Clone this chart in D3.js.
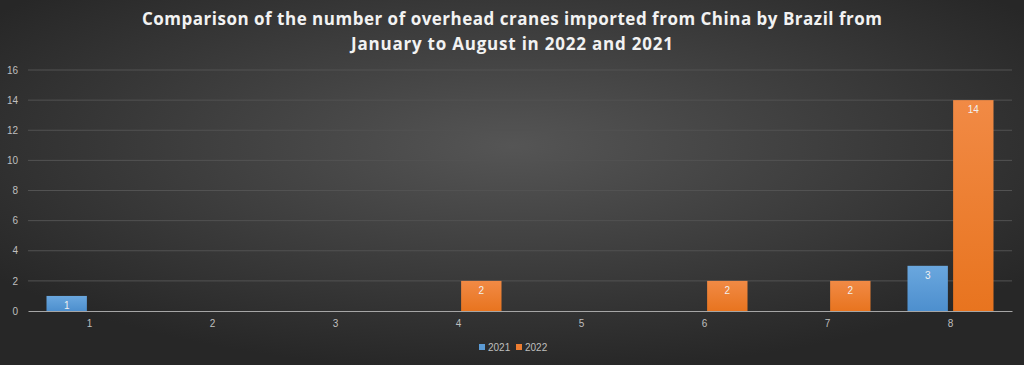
<!DOCTYPE html>
<html>
<head>
<meta charset="utf-8">
<script src="https://cdn.jsdelivr.net/npm/d3@7"></script>
<style>
  body { margin: 0; background: #333; }
  svg { display: block; }
</style>
</head>
<body>
<div id="chart"></div>
<script>
// chart data
var months = ["1", "2", "3", "4", "5", "6", "7", "8"];
var seriesNames = ["2021", "2022"];
var values2021 = [1, 0, 0, 0, 0, 0, 0, 3];
var values2022 = [0, 0, 0, 2, 0, 2, 2, 14];
var yTicks = [0, 2, 4, 6, 8, 10, 12, 14, 16];
var colors = ["#5b9bd5", "#ed7d31"];

var svgWidth = 1024;
var svgHeight = 365;
var margin = { top: 70, right: 12, bottom: 54, left: 28 };
var chartWidth = svgWidth - margin.left - margin.right;
var chartHeight = svgHeight - margin.top - margin.bottom;

var svg = d3.select("#chart").append("svg")
  .attr("width", svgWidth)
  .attr("height", svgHeight);

var defs = svg.append("defs");
var bg = defs.append("radialGradient").attr("id", "bg")
  .attr("cx", "50%").attr("cy", "40%").attr("r", "62%");
bg.append("stop").attr("offset", "0%").attr("stop-color", "#555555");
bg.append("stop").attr("offset", "100%").attr("stop-color", "#272727");

var grads = [["#6aa7de", "#4d8fce"], ["#f18a45", "#e8741f"]];
grads.forEach(function(g, i) {
  var lg = defs.append("linearGradient").attr("id", "bar" + i)
    .attr("x1", 0).attr("y1", 0).attr("x2", 0).attr("y2", 1);
  lg.append("stop").attr("offset", "0%").attr("stop-color", g[0]);
  lg.append("stop").attr("offset", "100%").attr("stop-color", g[1]);
});

svg.append("rect").attr("width", svgWidth).attr("height", svgHeight).attr("fill", "url(#bg)");

// title
var title = svg.append("text")
  .attr("text-anchor", "middle")
  .attr("fill", "#f2f2f2")
  .style("font-family", "'Liberation Sans Narrow', 'Open Sans', sans-serif")
  .style("font-weight", "bold")
  .style("font-size", "17px");
title.append("tspan").attr("x", 512).attr("y", 25)
  .attr("textLength", 740).attr("lengthAdjust", "spacing")
  .text("Comparison of the number of overhead cranes imported from China by Brazil from");
title.append("tspan").attr("x", 512).attr("y", 50)
  .attr("textLength", 322).attr("lengthAdjust", "spacing")
  .text("January to August in 2022 and 2021");

var chartGroup = svg.append("g")
  .attr("transform", `translate(${margin.left}, ${margin.top})`);

var xBandScale = d3.scaleBand()
  .domain(months)
  .range([0, chartWidth]);

var xInner = d3.scaleBand()
  .domain(seriesNames)
  .range([0, 86])
  .paddingInner(0.115);

var yLinearScale = d3.scaleLinear()
  .domain([0, 16])
  .range([chartHeight, 0]);

// gridlines
chartGroup.append("g")
  .selectAll("line")
  .data(yTicks.slice(1))
  .enter()
  .append("line")
  .attr("x1", 0)
  .attr("x2", chartWidth)
  .attr("y1", d => yLinearScale(d))
  .attr("y2", d => yLinearScale(d))
  .attr("stroke", "#525252")
  .attr("stroke-width", 1);

// y axis labels
var leftAxis = d3.axisLeft(yLinearScale).tickValues(yTicks).tickSize(0).tickPadding(10);
var yAxisG = chartGroup.append("g").call(leftAxis);
yAxisG.select(".domain").remove();
yAxisG.selectAll("text")
  .attr("fill", "#bfbfbf")
  .style("font-family", "'Liberation Sans', Arial, sans-serif")
  .style("font-size", "10px");

// bars
var rows = months.map(function(m, i) {
  return { month: m, values: [values2021[i], values2022[i]] };
});

var groups = chartGroup.selectAll(".group")
  .data(rows)
  .enter()
  .append("g")
  .attr("class", "group")
  .attr("transform", d => `translate(${xBandScale(d.month) + (xBandScale.bandwidth() - 86) / 2}, 0)`);

groups.selectAll("rect")
  .data(d => d.values.map((v, i) => ({ key: seriesNames[i], value: v, idx: i })))
  .enter()
  .filter(d => d.value > 0)
  .append("rect")
  .attr("x", d => xInner(d.key))
  .attr("y", d => yLinearScale(d.value))
  .attr("width", xInner.bandwidth())
  .attr("height", d => chartHeight - yLinearScale(d.value))
  .attr("fill", d => "url(#bar" + d.idx + ")");

groups.selectAll("text")
  .data(d => d.values.map((v, i) => ({ key: seriesNames[i], value: v })))
  .enter()
  .filter(d => d.value > 0)
  .append("text")
  .attr("x", d => xInner(d.key) + xInner.bandwidth() / 2)
  .attr("y", d => yLinearScale(d.value) + 13)
  .attr("text-anchor", "middle")
  .attr("fill", "#f0f0f0")
  .style("font-family", "'Liberation Sans', Arial, sans-serif")
  .style("font-size", "10px")
  .text(d => d.value);

// x axis
var bottomAxis = d3.axisBottom(xBandScale).tickSize(0).tickPadding(9);
var xAxisG = chartGroup.append("g")
  .attr("transform", `translate(0, ${chartHeight})`)
  .call(bottomAxis);
xAxisG.select(".domain").attr("stroke", "#a6a6a6").attr("stroke-width", 1.2);
xAxisG.selectAll("text")
  .attr("fill", "#bfbfbf")
  .style("font-family", "'Liberation Sans', Arial, sans-serif")
  .style("font-size", "10px");

// legend
var legend = svg.append("g").attr("transform", "translate(479, 345)");
seriesNames.forEach(function(name, i) {
  var lg = legend.append("g").attr("transform", `translate(${i * 37}, 0)`);
  lg.append("rect").attr("width", 6).attr("height", 6).attr("y", -1).attr("fill", colors[i]);
  lg.append("text").attr("x", 9).attr("y", 5.5)
    .attr("fill", "#bfbfbf")
    .style("font-family", "'Liberation Sans', Arial, sans-serif")
    .style("font-size", "10px")
    .text(name);
});
</script>
</body>
</html>
